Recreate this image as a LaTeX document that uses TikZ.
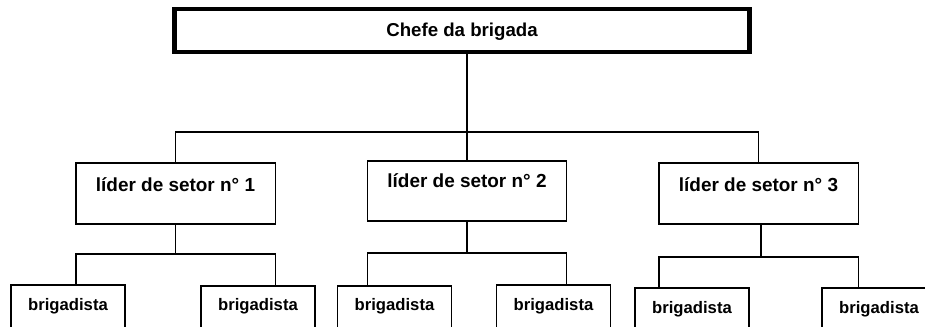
\documentclass[tikz,border=0pt]{standalone}
\usepackage{fontspec}
\setmainfont{Liberation Sans}
\begin{document}
\begin{tikzpicture}[x=0.75pt,y=-0.75pt,
  box/.style={draw, line width=1pt, inner sep=0pt, outer sep=0pt, anchor=north},
  chefebox/.style={box, line width=3.4pt, minimum width=431.6pt, text height=21pt, text depth=11.25pt,
    font=\bfseries\fontsize{14}{16}\selectfont},
  liderbox/.style={box, minimum width=149.5pt, font=\bfseries\fontsize{14.2}{16}\selectfont},
  brigbox/.style={box, minimum width=85.5pt, text depth=22pt, font=\bfseries\fontsize{12.5}{14}\selectfont},
  conn/.style={line width=1pt}]
\useasboundingbox (0,0) rectangle (925,327);

\node[chefebox] (chefe) at (462,9) {Chefe da brigada};

\node[liderbox, text height=21.4pt, text depth=24.4pt] (l1) at (175.5,163) {líder de setor n° 1};
\node[liderbox, text height=20pt, text depth=25pt] (l2) at (467,161) {líder de setor n° 2};
\node[liderbox, text height=21.5pt, text depth=24.2pt] (l3) at (758.5,163) {líder de setor n° 3};

\node[brigbox, text height=19.3pt] (b1) at (68,285) {brigadista};
\node[brigbox, text height=18.5pt] (b2) at (258,286) {brigadista};
\node[brigbox, text height=18.5pt] (b3) at (394.5,286) {brigadista};
\node[brigbox, text height=19.3pt] (b4) at (553.5,285) {brigadista};
\node[brigbox, text height=19pt] (b5) at (692,288) {brigadista};
\node[brigbox, text height=19pt] (b6) at (879,288) {brigadista};

\coordinate (bus) at (467,132);
\draw[conn] (l2.north |- chefe.south) -- (l2.north);
\draw[conn] (l1.north) |- (bus) -| (l3.north);

\coordinate (h1) at (175.5,254);
\coordinate (h2) at (467,253);
\coordinate (h3) at (761,257);
\draw[conn] (l1.south) -- (h1);
\draw[conn] (b1.north -| l1.west) |- (h1) -| (b2.north -| l1.east);
\draw[conn] (l2.south) -- (h2);
\draw[conn] (b3.north -| l2.west) |- (h2) -| (b4.north -| l2.east);
\draw[conn] (l3.south -| h3) -- (h3);
\draw[conn] (b5.north -| l3.west) |- (h3) -| (b6.north -| l3.east);
\end{tikzpicture}
\end{document}
